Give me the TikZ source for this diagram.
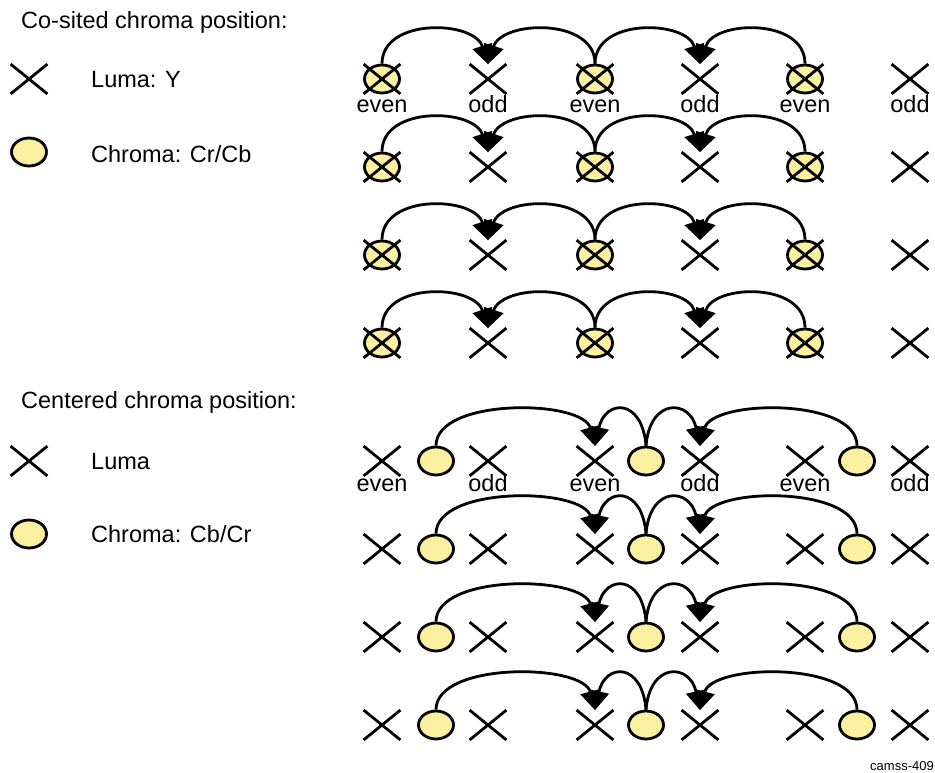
\documentclass[tikz,border=0pt]{standalone}
\usepackage{fontspec}
\setmainfont{Liberation Sans}
\usetikzlibrary{shapes.misc,shapes.geometric,arrows.meta}
\definecolor{chromafill}{RGB}{250,240,160}
\begin{document}
\begin{tikzpicture}[x=1pt,y=-1pt,
  luma/.style={cross out, draw, line width=2.8pt, minimum width=34pt, minimum height=27pt, inner sep=0pt},
  chroma/.style={ellipse, draw, fill=chromafill, line width=2.8pt, minimum width=35pt, minimum height=28pt, inner sep=0pt},
  lbl/.style={font=\fontsize{23.5}{28}\selectfont, inner sep=0pt, anchor=base},
  link/.style={line width=2.8pt, -{Triangle[length=19pt,width=20pt]}},
]
\useasboundingbox (0,0) rectangle (935,772);

% ---------- Co-sited legend ----------
\node[lbl, anchor=base west] (t1) at (21,28) {Co-sited chroma position:};
\node[luma] (ly1) at (29,79) {};
\node[lbl, anchor=base west] (ly1t) at (91,87) {Luma: Y};
\node[chroma] (lc1) at (29,152) {};
\node[lbl, anchor=base west] (lc1t) at (91,162) {Chroma: Cr/Cb};

% ---------- Co-sited rows ----------
\foreach \r/\c in {1/79, 2/167, 3/255, 4/343} {
  \foreach \i/\x in {1/382, 3/595, 5/805}
    \node[chroma] (sc\r\i) at (\x,\c) {};
  \foreach \i/\x in {1/382, 2/488, 3/595, 4/700, 5/805, 6/910}
    \node[luma] (sy\r\i) at (\x,\c) {};
  \draw[link] (sc\r1.north) .. controls +(0,-46) and +(-14,-44) .. (sy\r2.north);
  \draw[link] (sc\r3.north) .. controls +(0,-46) and +(14,-44) .. (sy\r2.north);
  \draw[link] (sc\r3.north) .. controls +(0,-46) and +(-14,-44) .. (sy\r4.north);
  \draw[link] (sc\r5.north) .. controls +(0,-46) and +(14,-44) .. (sy\r4.north);
}
\foreach \i/\x/\t in {1/382/even, 2/488/odd, 3/595/even, 4/700/odd, 5/805/even, 6/910/odd}
  \node[lbl] (sl\i) at (\x,112) {\t};

% ---------- Centered legend ----------
\node[lbl, anchor=base west] (t2) at (21,408) {Centered chroma position:};
\node[luma] (ly2) at (29,461) {};
\node[lbl, anchor=base west] (ly2t) at (91,469) {Luma};
\node[chroma] (lc2) at (29,534) {};
\node[lbl, anchor=base west] (lc2t) at (91,542) {Chroma: Cb/Cr};

% ---------- Centered rows ----------
\foreach \r/\c in {1/461, 2/549, 3/637, 4/725} {
  \foreach \i/\x in {1/382, 2/488, 3/595, 4/700, 5/805, 6/910}
    \node[luma] (cy\r\i) at (\x,\c) {};
  \foreach \i/\x in {1/436, 2/646, 3/857}
    \node[chroma] (cc\r\i) at (\x,\c) {};
  \draw[link] (cc\r1.north) .. controls +(0,-48) and +(-12,-47) .. (cy\r3.north);
  \draw[link] (cc\r2.north) .. controls +(-4,-48) and +(10,-47) .. (cy\r3.north);
  \draw[link] (cc\r2.north) .. controls +(4,-48) and +(-10,-47) .. (cy\r4.north);
  \draw[link] (cc\r3.north) .. controls +(0,-48) and +(12,-47) .. (cy\r4.north);
}
\foreach \i/\x/\t in {1/382/even, 2/488/odd, 3/595/even, 4/700/odd, 5/805/even, 6/910/odd}
  \node[lbl] (cl\i) at (\x,491) {\t};

\node[font=\fontsize{13}{15}\selectfont, anchor=base east, inner sep=0pt] (tag) at (934,770) {camss-409};
\end{tikzpicture}
\end{document}
